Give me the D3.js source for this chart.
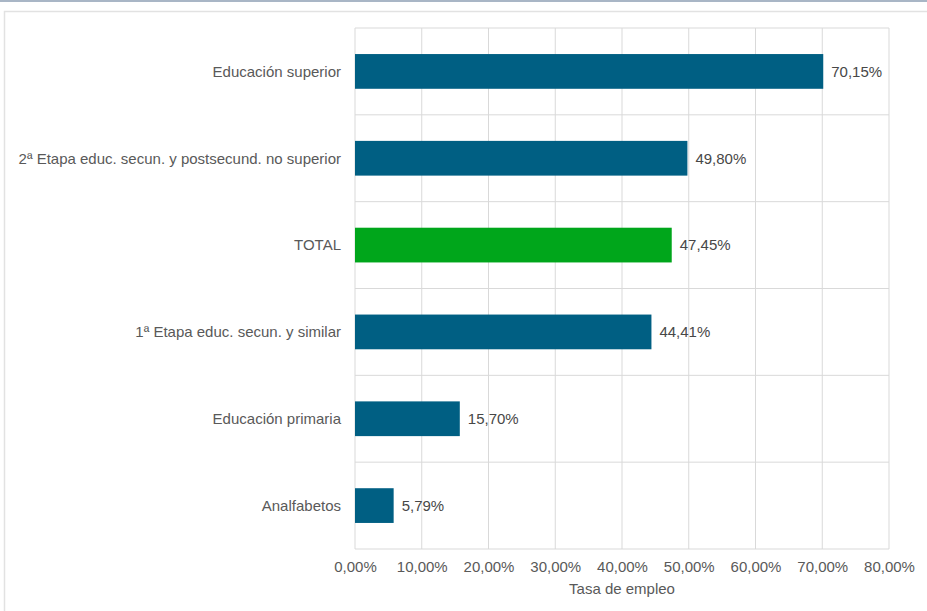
<!DOCTYPE html>
<html><head><meta charset="utf-8">
<script src="https://cdn.jsdelivr.net/npm/d3@7"></script>
<style>
body{margin:0;background:#fff;}
svg{display:block;font-family:"Liberation Sans",Arial,sans-serif;}
</style></head>
<body><svg id="c" width="927" height="611"></svg>
<script>
const categories = ["Educación superior","2ª Etapa educ. secun. y postsecund. no superior","TOTAL","1ª Etapa educ. secun. y similar","Educación primaria","Analfabetos"];
const values = [70.15, 49.80, 47.45, 44.41, 15.70, 5.79];
const highlight = ["TOTAL"];
const ticks = [0,10,20,30,40,50,60,70,80];
const xTitle = "Tasa de empleo";

const svg = d3.select("#c");
const fmt = v => v.toFixed(2).replace(".", ",") + "%";
// frame
svg.append("rect").attr("x",0).attr("y",0).attr("width",927).attr("height",2).attr("fill","#a9b6c6");
svg.append("rect").attr("x",4.5).attr("y",11.5).attr("width",940).attr("height",620)
  .attr("fill","none").attr("stroke","#e2e2e2").attr("stroke-width",1.5);

const x = d3.scaleLinear().domain([0,80]).range([355,889]);
const y = d3.scaleBand().domain(categories).range([28,549]).paddingInner(0.6).paddingOuter(0.3);
const yb = d3.scaleBand().domain(categories).range([28,549]);

const g = svg.append("g");
// vertical grid
g.selectAll("line.v").data(ticks).join("line")
  .attr("x1",d=>x(d)).attr("x2",d=>x(d)).attr("y1",28).attr("y2",549)
  .attr("stroke","#d9d9d9").attr("stroke-width",1);
// horizontal category lines
const hl = categories.map(c=>yb(c)).concat([549]);
g.selectAll("line.h").data(hl).join("line")
  .attr("x1",355).attr("x2",889).attr("y1",d=>d).attr("y2",d=>d)
  .attr("stroke","#d9d9d9").attr("stroke-width",1);

// bars
g.selectAll("rect.bar").data(values).join("rect")
  .attr("x",x(0)).attr("y",(d,i)=>y(categories[i]))
  .attr("width",d=>x(d)-x(0)).attr("height",y.bandwidth())
  .attr("fill",(d,i)=>highlight.includes(categories[i])?"#00a61b":"#005f83");

// value labels
g.selectAll("text.val").data(values).join("text")
  .attr("x",d=>x(d)+8).attr("y",(d,i)=>y(categories[i])+y.bandwidth()/2)
  .attr("dy","0.35em").attr("font-size",15).attr("fill","#474747")
  .text(d=>fmt(d));

// category labels
g.selectAll("text.cat").data(categories).join("text")
  .attr("x",341).attr("y",d=>y(d)+y.bandwidth()/2).attr("dy","0.35em")
  .attr("text-anchor","end").attr("font-size",15).attr("fill","#595959")
  .text(d=>d);

// x axis labels
const ax = svg.append("g").attr("transform","translate(0,549)")
  .call(d3.axisBottom(x).tickValues(ticks).tickSize(0).tickPadding(12).tickFormat(d=>d.toFixed(2).replace(".",",")+"%"));
ax.select(".domain").remove();
ax.selectAll("text").attr("font-size",15).attr("fill","#595959").attr("font-family","Liberation Sans, Arial, sans-serif");

svg.append("text").attr("x",622).attr("y",594).attr("text-anchor","middle")
  .attr("font-size",15).attr("fill","#595959").text(xTitle);
</script></body></html>
